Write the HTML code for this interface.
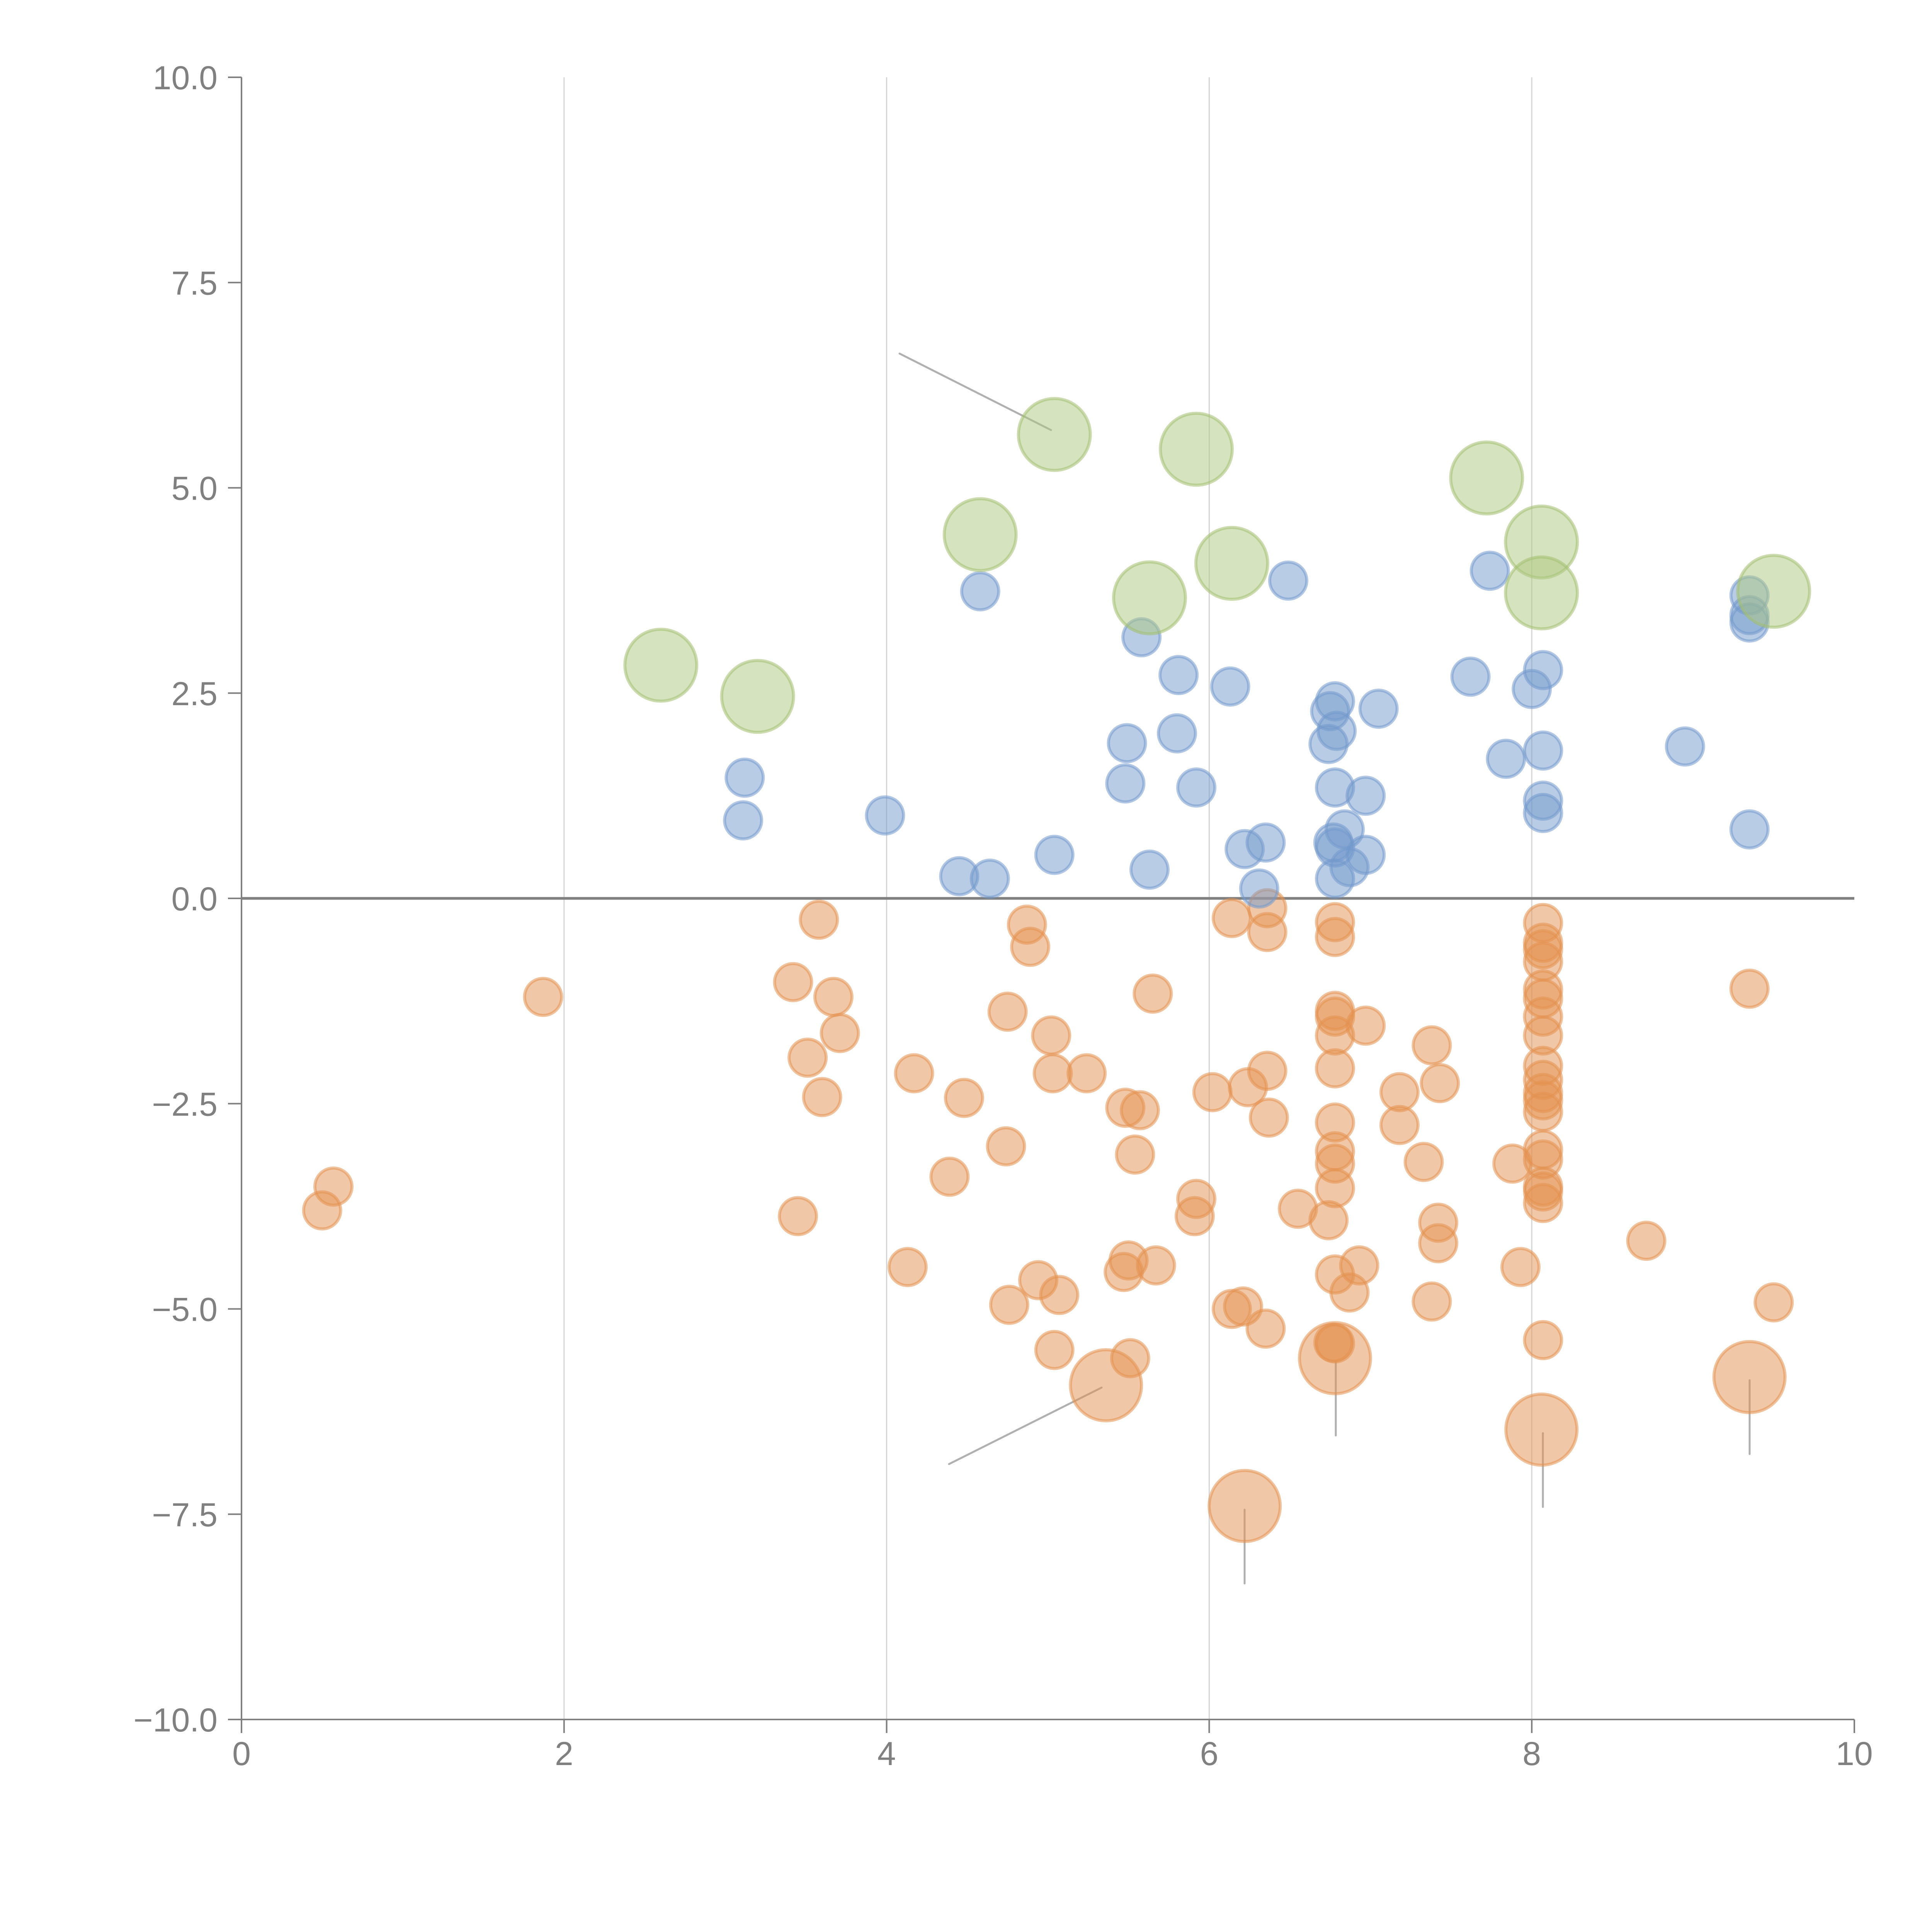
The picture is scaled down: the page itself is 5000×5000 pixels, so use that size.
<!DOCTYPE html>
<html><head><meta charset="utf-8"><style>
html,body{margin:0;padding:0;background:#fff;}
svg{display:block;}
text{font-family:"Liberation Sans",Arial,sans-serif;fill:#808080;font-size:86px;}
</style></head><body>
<svg id="chart" width="5000" height="5000" viewBox="0 0 5000 5000">
<g id="grid"></g>
<g id="axes"></g>
<g id="leaders"></g>
<g id="marks"></g>
</svg>
<script>
const xTicks=[0,2,4,6,8,10];
const xTickLabels=["0","2","4","6","8","10"];
const yTicks=[10,7.5,5,2.5,0,-2.5,-5,-7.5,-10];
const yTickLabels=["10.0","7.5","5.0","2.5","0.0","\u22122.5","\u22125.0","\u22127.5","\u221210.0"];
const blueX=[4.58,5.58,6.49,7.74,3.12,3.11,3.99,4.45,4.64,5.04,5.63,5.48,5.49,5.80,5.92,5.81,6.13,6.22,6.35,6.31,6.78,6.75,6.79,6.74,6.78,6.97,6.84,6.77,6.78,6.87,6.78,6.97,7.05,7.62,7.84,8.00,8.07,8.07,8.07,8.07,8.95,9.35,9.35,9.35,9.35];
const blueY=[3.74,3.18,3.87,3.99,1.47,0.95,1.01,0.27,0.24,0.53,0.35,1.40,1.89,2.01,1.35,2.72,2.58,0.60,0.68,0.12,2.40,2.28,2.04,1.88,1.35,1.25,0.84,0.68,0.62,0.38,0.24,0.53,2.31,2.70,1.70,2.55,2.78,1.80,1.19,1.04,1.85,3.69,3.45,3.36,0.84];
const greenX=[2.60,3.20,4.58,5.04,5.63,5.92,6.14,7.72,8.06,8.06,9.50];
const greenY=[2.84,2.46,4.43,5.65,3.66,5.47,4.08,5.12,4.34,3.72,3.74];
const orangeX=[1.87,0.57,0.50,3.58,3.42,3.67,3.71,3.51,3.60,3.45,4.13,4.17,4.48,4.39,4.74,4.75,4.87,4.89,5.02,5.03,5.24,4.94,4.76,5.07,5.04,5.48,5.57,5.54,5.65,5.50,5.47,5.67,5.51,6.02,5.92,5.91,6.14,6.36,6.36,6.36,6.24,6.37,6.55,6.74,6.14,6.21,6.35,6.78,6.78,6.78,6.78,6.78,6.97,6.78,6.78,6.78,6.78,6.78,6.78,6.93,6.87,6.77,6.78,7.38,7.18,7.43,7.18,7.33,7.42,7.42,7.38,7.88,7.93,8.07,8.07,8.07,8.07,8.07,8.07,8.07,8.07,8.07,8.07,8.07,8.07,8.07,8.07,8.07,8.07,8.07,8.07,8.07,8.71,9.35,9.50];
const orangeY=[-1.20,-3.51,-3.80,-0.26,-1.02,-1.20,-1.64,-1.94,-2.42,-3.87,-4.49,-2.13,-2.43,-3.39,-3.02,-1.38,-0.32,-0.59,-1.67,-2.13,-2.13,-4.65,-4.95,-4.83,-5.50,-2.55,-2.58,-3.12,-1.16,-4.41,-4.55,-4.47,-5.60,-2.36,-3.66,-3.87,-0.24,-0.12,-0.41,-2.10,-2.30,-2.67,-3.78,-3.92,-5.00,-4.97,-5.24,-0.29,-0.47,-1.37,-1.44,-1.67,-1.55,-2.07,-2.73,-3.08,-3.23,-3.53,-4.58,-4.47,-4.80,-5.41,-5.42,-1.79,-2.36,-2.25,-2.76,-3.21,-3.95,-4.20,-4.91,-3.23,-4.49,-0.30,-0.54,-0.62,-0.77,-1.11,-1.22,-1.44,-1.67,-2.04,-2.21,-2.37,-2.46,-2.60,-3.06,-3.18,-3.51,-3.57,-3.71,-5.38,-4.17,-1.10,-4.92];
const bigOrangeX=[5.36,6.78,6.22,8.06,9.35];
const bigOrangeY=[-5.93,-5.60,-7.40,-6.47,-5.83];

const NS="http://www.w3.org/2000/svg";
const X0=625,XW=417.4,Y0=2325,YH=212.5;
function sx(v){return X0+v*XW;}
function sy(v){return Y0-v*YH;}
function mk(tag,attrs,parent){const e=document.createElementNS(NS,tag);for(const k in attrs)e.setAttribute(k,attrs[k]);parent.appendChild(e);return e;}
const grid=document.getElementById('grid'),axes=document.getElementById('axes'),marks=document.getElementById('marks'),leaders=document.getElementById('leaders');

xTicks.forEach((t,i)=>{
  if(t>0&&t<10){const g=mk('line',{x1:sx(t),x2:sx(t),y1:sy(10),y2:sy(-10),stroke:'#d4d4d4','stroke-width':3},grid);
  
  }
  const tk=mk('line',{x1:sx(t),x2:sx(t),y1:sy(-10),y2:sy(-10)+35,stroke:'#808080','stroke-width':4},axes);
  
  
  const tx=mk('text',{x:sx(t),y:sy(-10)+118,'text-anchor':'middle'},axes);
  tx.textContent=xTickLabels[i];
  
  
});
yTicks.forEach((t,i)=>{
  const tk=mk('line',{x1:sx(0)-35,x2:sx(0),y1:sy(t),y2:sy(t),stroke:'#808080','stroke-width':4},axes);
  
  
  const tx=mk('text',{x:sx(0)-62,y:sy(t)+31,'text-anchor':'end'},axes);
  tx.textContent=yTickLabels[i];
  
  
});
const ya=mk('line',{x1:sx(0),x2:sx(0),y1:sy(10),y2:sy(-10),stroke:'#808080','stroke-width':4},axes);


const xa=mk('line',{x1:sx(0),x2:sx(10),y1:sy(-10),y2:sy(-10),stroke:'#808080','stroke-width':4},axes);



function series(xs,ys,r,fill,stroke,name){
  xs.forEach((v,i)=>{
    const c=mk('circle',{cx:sx(v),cy:sy(ys[i]),r:r,fill:fill,'fill-opacity':0.5,stroke:stroke,'stroke-opacity':0.55,'stroke-width':8},marks);
    
    
  });
}
series(orangeX,orangeY,48,'#e39150','#e39150','orange-point');
series(bigOrangeX,bigOrangeY,92,'#e39150','#e39150','orange-large-point');
series(blueX,blueY,48,'#7399cc','#7399cc','blue-point');
series(greenX,greenY,93,'#adc87f','#a3c06f','green-point');

const zl=mk('line',{x1:sx(0),x2:sx(10),y1:sy(0),y2:sy(0),stroke:'#808080','stroke-width':7},axes);



const leaderSegs=[[2328,915,2720,1113],[2456,3789,2851,3591],[3457,3524,3457,3715],[3221,3907,3221,4098],[3993,3709,3993,3900],[4528,3572,4528,3763]];
leaderSegs.forEach(s=>{
  const l=mk('line',{x1:s[0],y1:s[1],x2:s[2],y2:s[3],stroke:'#b0b0b0','stroke-width':5,'stroke-linecap':'round'},leaders);
  
  
});
</script>
</body></html>
